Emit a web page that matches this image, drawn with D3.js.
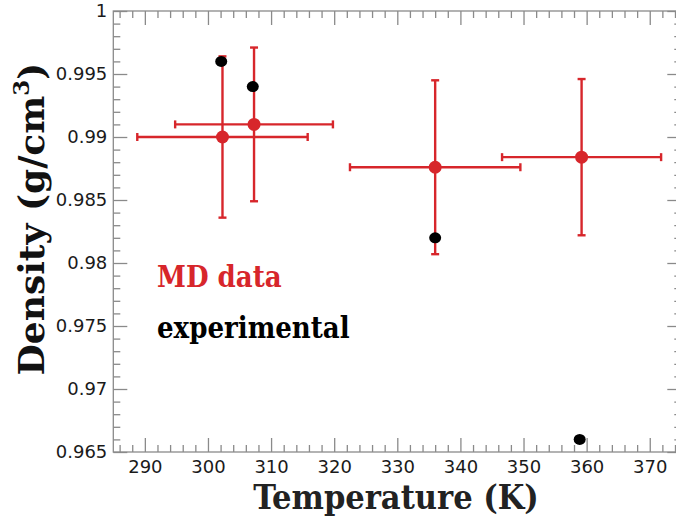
<!DOCTYPE html>
<html>
<head>
<meta charset="utf-8">
<script src="https://cdn.jsdelivr.net/npm/d3@7"></script>
<style>
  html, body { margin: 0; padding: 0; background: #fff; overflow: hidden; }
  svg { display: block; }
</style>
</head>
<body>
<div id="chart"></div>
<script>
// ---- data ----
const xMD = [302.3, 307.3, 336.0, 359.2];
const yMD = [0.9900, 0.9910, 0.9876, 0.9884];
const xErrMD = [13.5, 12.5, 13.5, 12.6];
const yErrMD = [0.0064, 0.0061, 0.0069, 0.0062];
const xExp = [302.1, 307.1, 336.0, 358.9];
const yExp = [0.9960, 0.9940, 0.9820, 0.9660];
const xTicks = [290, 300, 310, 320, 330, 340, 350, 360, 370];
const yTicks = [0.965, 0.97, 0.975, 0.98, 0.985, 0.99, 0.995, 1];
const yTickLabels = ["0.965", "0.97", "0.975", "0.98", "0.985", "0.99", "0.995", "1"];

(function () {
const W = 676, H = 520;
const red = "#d7262b";
const axisColor = "#8a8a8a";

const svg = d3.select("#chart").append("svg").attr("width", W).attr("height", H);

const x = d3.scaleLinear().domain([285, 375]).range([113.3, 681.3]);
const y = d3.scaleLinear().domain([0.965, 1]).range([452, 11]);

const pL = x.range()[0], pR = x.range()[1], pT = y.range()[1], pB = y.range()[0];

const xMinor = d3.range(286, 375, 2).filter(v => v % 10 !== 0);
const yMinor = d3.range(966, 1000, 1).map(v => v / 1000).filter(v => Math.round(v * 1000) % 5 !== 0);

function styleAxis(g) {
  g.select(".domain").remove();
  g.selectAll(".tick line").attr("stroke", axisColor).attr("stroke-width", 1.3);
}

// bottom axis (major)
const gB = svg.append("g").attr("transform", `translate(0,${pB})`)
  .call(d3.axisBottom(x).tickValues(xTicks).tickSize(-14).tickPadding(8).tickFormat(d3.format("d")));
styleAxis(gB);
gB.selectAll(".tick text").attr("font-family", "DejaVu Sans").attr("font-size", 18).attr("fill", "#1a1a1a");
svg.append("g").attr("transform", `translate(0,${pB})`)
  .call(d3.axisBottom(x).tickValues(xMinor).tickSize(-7).tickFormat(""))
  .call(styleAxis);

// top axis
svg.append("g").attr("transform", `translate(0,${pT})`)
  .call(d3.axisTop(x).tickValues(xTicks).tickSize(-14).tickFormat(""))
  .call(styleAxis);
svg.append("g").attr("transform", `translate(0,${pT})`)
  .call(d3.axisTop(x).tickValues(xMinor).tickSize(-7).tickFormat(""))
  .call(styleAxis);

// left axis
const gL = svg.append("g").attr("transform", `translate(${pL},0)`)
  .call(d3.axisLeft(y).tickValues(yTicks).tickSize(-14).tickPadding(6)
    .tickFormat((d, i) => yTickLabels[i]));
styleAxis(gL);
gL.selectAll(".tick text").attr("font-family", "DejaVu Sans").attr("font-size", 18).attr("fill", "#1a1a1a")
  .attr("x", -6);
svg.append("g").attr("transform", `translate(${pL},0)`)
  .call(d3.axisLeft(y).tickValues(yMinor).tickSize(-7).tickFormat(""))
  .call(styleAxis);

// right axis
svg.append("g").attr("transform", `translate(${pR},0)`)
  .call(d3.axisRight(y).tickValues(yTicks).tickSize(-14).tickFormat(""))
  .call(styleAxis);
svg.append("g").attr("transform", `translate(${pR},0)`)
  .call(d3.axisRight(y).tickValues(yMinor).tickSize(-7).tickFormat(""))
  .call(styleAxis);

// frame
svg.append("rect").attr("x", pL).attr("y", pT).attr("width", pR - pL).attr("height", pB - pT)
  .attr("fill", "none").attr("stroke", axisColor).attr("stroke-width", 1.3);

// MD error bars
const md = xMD.map((v, i) => ({ x: v, y: yMD[i], ex: xErrMD[i], ey: yErrMD[i] }));
const eb = svg.append("g").attr("stroke", red).attr("stroke-width", 2.4).attr("fill", "none");
const cap = 4;
md.forEach(d => {
  eb.append("line").attr("x1", x(d.x)).attr("x2", x(d.x)).attr("y1", y(d.y - d.ey)).attr("y2", y(d.y + d.ey));
  eb.append("line").attr("x1", x(d.x) - cap).attr("x2", x(d.x) + cap).attr("y1", y(d.y + d.ey)).attr("y2", y(d.y + d.ey));
  eb.append("line").attr("x1", x(d.x) - cap).attr("x2", x(d.x) + cap).attr("y1", y(d.y - d.ey)).attr("y2", y(d.y - d.ey));
  eb.append("line").attr("x1", x(d.x - d.ex)).attr("x2", x(d.x + d.ex)).attr("y1", y(d.y)).attr("y2", y(d.y));
  eb.append("line").attr("x1", x(d.x - d.ex)).attr("x2", x(d.x - d.ex)).attr("y1", y(d.y) - cap).attr("y2", y(d.y) + cap);
  eb.append("line").attr("x1", x(d.x + d.ex)).attr("x2", x(d.x + d.ex)).attr("y1", y(d.y) - cap).attr("y2", y(d.y) + cap);
});

// experimental points
svg.append("g").selectAll("ellipse").data(xExp.map((v, i) => ({ x: v, y: yExp[i] })))
  .join("ellipse").attr("cx", d => x(d.x)).attr("cy", d => y(d.y)).attr("rx", 6).attr("ry", 5.5).attr("fill", "#000");

// MD points
svg.append("g").selectAll("circle").data(md)
  .join("circle").attr("cx", d => x(d.x)).attr("cy", d => y(d.y)).attr("r", 6.5).attr("fill", red);

// legend
const serif = "DejaVu Serif";
svg.append("text").attr("x", 157).attr("y", 287).attr("font-family", serif).attr("font-stretch", "condensed")
  .attr("font-weight", "bold").attr("font-size", 29).attr("fill", red).text("MD data");
svg.append("text").attr("x", 157).attr("y", 338).attr("font-family", serif).attr("font-stretch", "condensed")
  .attr("font-weight", "bold").attr("font-size", 29).attr("fill", "#000").text("experimental");

// axis titles
svg.append("text").attr("x", 396).attr("y", 509).attr("text-anchor", "middle")
  .attr("font-family", serif).attr("font-stretch", "condensed").attr("font-weight", "bold")
  .attr("font-size", 34).attr("fill", "#222").text("Temperature (K)");

const yt = svg.append("text").attr("transform", "translate(44,219) rotate(-90)").attr("text-anchor", "middle")
  .attr("font-family", serif).attr("font-weight", "bold")
  .attr("font-size", 36).attr("fill", "#111");
yt.append("tspan").text("Density (g/cm");
yt.append("tspan").attr("font-size", 23).attr("dy", -15).text("3");
yt.append("tspan").attr("dy", 15).text(")");
})();
</script>
</body>
</html>
